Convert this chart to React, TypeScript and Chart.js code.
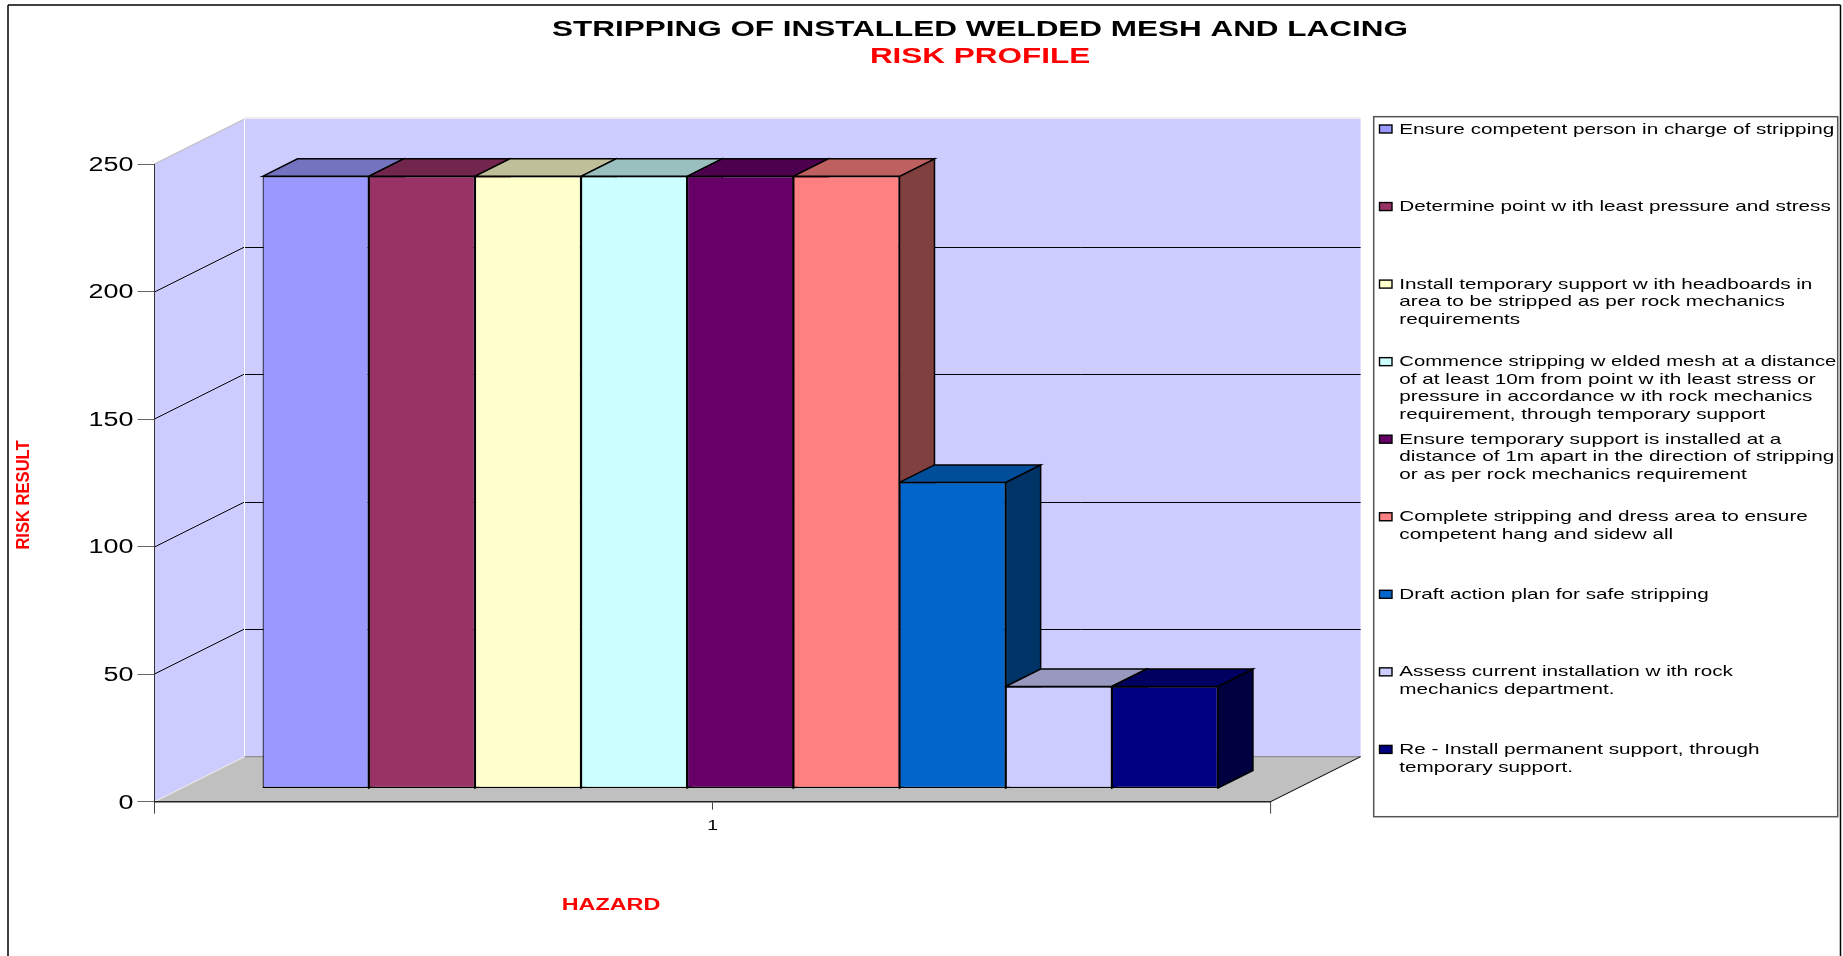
import React, { useEffect, useRef } from "react";
import { Chart, registerables } from "chart.js";

Chart.register(...registerables);

const titleText = "STRIPPING OF INSTALLED WELDED MESH AND LACING";
const subtitleText = "RISK PROFILE";
const xAxisTitle = "HAZARD";
const yAxisTitle = "RISK RESULT";
const categories = ["1"];

const seriesLines: string[][] = [
  ["Ensure competent person in charge of stripping"],
  ["Determine point w ith least pressure and stress"],
  ["Install temporary support w ith headboards in", "area to be stripped as per rock mechanics", "requirements"],
  ["Commence stripping w elded mesh at a distance", "of at least 10m from point w ith least stress or", "pressure in accordance w ith rock mechanics", "requirement, through temporary support"],
  ["Ensure temporary support is installed at a", "distance of 1m apart in the direction of stripping", "or as per rock mechanics requirement"],
  ["Complete stripping and dress area to ensure", "competent hang and sidew all"],
  ["Draft action plan for safe stripping"],
  ["Assess current installation w ith rock", "mechanics department."],
  ["Re - Install permanent support, through", "temporary support."],
];
const seriesValues = [240, 240, 240, 240, 240, 240, 120, 40, 40];
const seriesColors = ["#9999FF", "#993366", "#FFFFCC", "#CCFFFF", "#660066", "#FF8080", "#0066CC", "#CCCCFF", "#000080"];

const FONT = '"Liberation Sans", Arial, sans-serif';
const DEPTH_X = 90;
const DEPTH_Y = 45;
const BAR_SHIFT_X = 27.7;
const BAR_SHIFT_Y = 13.2;
const BAR_DEPTH_X = 35;
const BAR_DEPTH_Y = 17.5;
const LEGEND_TEXT_WIDTH = 437;
const BODY_STRETCH = 1.38;

let stretchOverride: number | null = null;

function shade(hex: string, f: number) {
  const n = parseInt(hex.slice(1), 16);
  const r = Math.round(((n >> 16) & 255) * f);
  const g = Math.round(((n >> 8) & 255) * f);
  const b = Math.round((n & 255) * f);
  return `rgb(${r},${g},${b})`;
}

function poly(ctx: CanvasRenderingContext2D, pts: number[][], fill?: string, stroke?: string, lw = 1) {
  ctx.beginPath();
  pts.forEach((p, i) => (i ? ctx.lineTo(p[0], p[1]) : ctx.moveTo(p[0], p[1])));
  ctx.closePath();
  if (fill) {
    ctx.fillStyle = fill;
    ctx.fill();
  }
  if (stroke) {
    ctx.strokeStyle = stroke;
    ctx.lineWidth = lw;
    ctx.stroke();
  }
}

function line(ctx: CanvasRenderingContext2D, x1: number, y1: number, x2: number, y2: number, color: string, lw = 1) {
  ctx.beginPath();
  ctx.moveTo(x1, y1);
  ctx.lineTo(x2, y2);
  ctx.strokeStyle = color;
  ctx.lineWidth = lw;
  ctx.stroke();
}

const wallsPlugin = {
  id: "walls",
  afterLayout(chart: any) {
    chart.boxes.filter((b: any) => !b.axis && b.options && b.options.text).forEach((b: any) => {
      b.left = 117;
      b.right = 1843;
    });
  },
  beforeDraw(chart: any) {
    const ctx = chart.ctx;
    const { left, right } = chart.chartArea;
    const ys = chart.scales.y;
    const top = ys.getPixelForValue(250);
    const bottom = ys.getPixelForValue(0);
    ctx.save();
    ctx.fillStyle = "#fff";
    ctx.fillRect(0, 0, chart.width, chart.height);
    poly(ctx, [[left + DEPTH_X, top - DEPTH_Y], [right + DEPTH_X, top - DEPTH_Y], [right + DEPTH_X, bottom - DEPTH_Y], [left + DEPTH_X, bottom - DEPTH_Y]], "#CCCCFF");
    poly(ctx, [[left, top], [left + DEPTH_X, top - DEPTH_Y], [left + DEPTH_X, bottom - DEPTH_Y], [left, bottom]], "#CCCCFF");
    poly(ctx, [[left, bottom], [left + DEPTH_X, bottom - DEPTH_Y], [right + DEPTH_X, bottom - DEPTH_Y], [right, bottom]], "#C0C0C0");
    ys.ticks.forEach((t: any) => {
      if (t.value === 0 || t.value === 250) return;
      const y = Math.round(ys.getPixelForValue(t.value));
      line(ctx, left, y, left + DEPTH_X, y - DEPTH_Y, "#000", 1);
      line(ctx, left + DEPTH_X, y - DEPTH_Y + 0.5, right + DEPTH_X, y - DEPTH_Y + 0.5, "#000", 1);
    });
    line(ctx, left + DEPTH_X, top - DEPTH_Y - 1, right + DEPTH_X, top - DEPTH_Y - 1, "#E6E6E6", 1.5);
    line(ctx, left, top, left + DEPTH_X, top - DEPTH_Y, "#BDBDBD", 1.2);
    line(ctx, left, bottom, left + DEPTH_X, bottom - DEPTH_Y, "#E8E8E8", 1.2);
    line(ctx, left + DEPTH_X, top - DEPTH_Y, left + DEPTH_X, bottom - DEPTH_Y, "#FFFFFF", 1);
    line(ctx, left + DEPTH_X, bottom - DEPTH_Y, right + DEPTH_X, bottom - DEPTH_Y, "#808080", 1);
    line(ctx, right, bottom, right + DEPTH_X, bottom - DEPTH_Y, "#000", 1);
    // end ticks of the category axis
    line(ctx, left, bottom, left, bottom + 12, "#444", 1);
    line(ctx, right, bottom, right, bottom + 12, "#444", 1);
    ctx.restore();
  },
  beforeDatasetsDraw(chart: any) {
    const ctx = chart.ctx;
    ctx.save();
    ctx.translate(BAR_SHIFT_X, -BAR_SHIFT_Y);
    ctx.lineJoin = "miter";
    seriesValues.forEach((_, i) => {
      const el = chart.getDatasetMeta(i).data[0];
      const xl = el.x - el.width / 2;
      const xr = el.x + el.width / 2;
      const yt = el.y;
      const yb = el.base;
      const c = seriesColors[i];
      poly(ctx, [[xr, yt], [xr + BAR_DEPTH_X, yt - BAR_DEPTH_Y], [xr + BAR_DEPTH_X, yb - BAR_DEPTH_Y], [xr, yb]], shade(c, 0.5), "#000", 1.5);
      poly(ctx, [[xl, yt], [xl + BAR_DEPTH_X, yt - BAR_DEPTH_Y], [xr + BAR_DEPTH_X, yt - BAR_DEPTH_Y], [xr, yt]], shade(c, 0.75), "#000", 1.5);
    });
  },
  afterDatasetsDraw(chart: any) {
    chart.ctx.restore();
  },
  afterDraw(chart: any) {
    const ctx = chart.ctx;
    ctx.save();
    // outer frame
    line(ctx, 8, 5, 8, 956, "#000", 1.5);
    line(ctx, 8, 5, 1840.5, 5, "#000", 1.5);
    line(ctx, 1840.5, 5, 1840.5, 956, "#000", 1.5);

    // axis titles
    ctx.fillStyle = "#FF0000";
    ctx.textAlign = "center";
    ctx.textBaseline = "middle";
    ctx.font = `bold 16px ${FONT}`;
    stretchOverride = 1.46;
    ctx.fillText(xAxisTitle, 611, 904);
    ctx.save();
    ctx.translate(23, 495);
    ctx.rotate(-Math.PI / 2);
    ctx.font = `bold 18px ${FONT}`;
    stretchOverride = 0.92;
    ctx.fillText(yAxisTitle, 0, 0);
    ctx.restore();
    stretchOverride = null;

    // legend
    ctx.strokeStyle = "#555";
    ctx.lineWidth = 1.5;
    ctx.strokeRect(1373.7, 116.7, 464, 700);
    ctx.font = `15px ${FONT}`;
    ctx.textAlign = "left";
    seriesLines.forEach((lines, i) => {
      const cy = 129 + i * 77.55;
      ctx.fillStyle = seriesColors[i];
      ctx.fillRect(1379.5, cy - 4, 12.5, 8);
      ctx.strokeStyle = "#000";
      ctx.lineWidth = 1.4;
      ctx.strokeRect(1379.5, cy - 4, 12.5, 8);
      ctx.fillStyle = "#000";
      lines.forEach((t, j) => {
        stretchOverride = Math.min(BODY_STRETCH, LEGEND_TEXT_WIDTH / ctx.measureText(t).width);
        ctx.fillText(t, 1399.3, cy - 1 + j * 17.5);
      });
    });
    stretchOverride = null;
    ctx.restore();
  },
};

export default function App() {
  const ref = useRef<HTMLCanvasElement>(null);
  useEffect(() => {
    const canvas = ref.current!;
    const ctx = canvas.getContext("2d") as any;
    const raw = ctx.fillText.bind(ctx);
    ctx.fillText = (t: string, x: number, y: number) => {
      const k = stretchOverride ?? (String(ctx.font).startsWith("bold") ? 1.43 : BODY_STRETCH);
      ctx.save();
      ctx.translate(x, y + 1.5);
      ctx.scale(k, 1);
      raw(t, 0, 0);
      ctx.restore();
    };
    const chart = new Chart(canvas, {
      type: "bar",
      data: {
        labels: categories,
        datasets: seriesLines.map((lines, i) => ({
          label: lines.join(" "),
          data: [seriesValues[i]],
          backgroundColor: seriesColors[i],
          borderColor: "#000",
          borderWidth: 1.2,
          borderSkipped: false,
          categoryPercentage: 0.856,
          barPercentage: 1,
        })),
      },
      options: {
        responsive: false,
        animation: false,
        events: [],
        layout: { padding: { left: 0, right: 572.4, top: 0, bottom: 0 } },
        plugins: {
          legend: { display: false },
          tooltip: { enabled: false },
          title: {
            display: true,
            text: titleText,
            color: "#000",
            font: { family: FONT, size: 22, weight: "bold" },
            padding: { top: 15.5, bottom: 0 },
          },
          subtitle: {
            display: true,
            text: subtitleText,
            color: "#FF0000",
            font: { family: FONT, size: 22, weight: "bold" },
            padding: { top: 0.7, bottom: 95 },
          },
        },
        scales: {
          x: {
            offset: true,
            afterFit: (s: any) => { s.height = 956 - 801.7; },
            grid: { offset: false, drawOnChartArea: false, tickLength: 8, tickColor: "#444", tickWidth: 1 },
            border: { display: true, color: "#222", width: 1.5 },
            ticks: { color: "#000", padding: 7, font: { family: FONT, size: 14 }, maxRotation: 0 },
          },
          y: {
            min: 0,
            max: 250,
            afterFit: (s: any) => { s.width = 154.5; },
            grid: { drawOnChartArea: false, tickLength: 17, tickColor: "#666", tickWidth: 1 },
            border: { display: true, color: "#333", width: 1 },
            ticks: { stepSize: 50, color: "#000", padding: 4, font: { family: FONT, size: 19.5 } },
          },
        },
      } as any,
      plugins: [wallsPlugin],
    });
    return () => chart.destroy();
  }, []);
  return <canvas ref={ref} width={1843} height={956} style={{ position: "fixed", left: 0, top: 0, display: "block" }} />;
}
